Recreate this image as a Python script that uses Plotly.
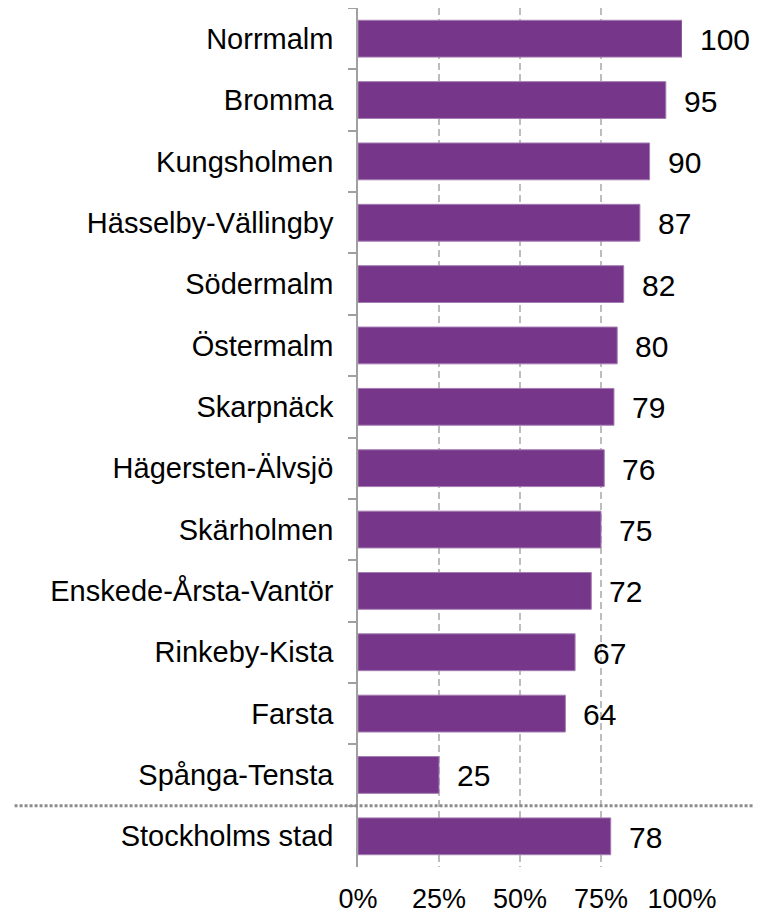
import plotly.graph_objects as go

categories = ["Norrmalm", "Bromma", "Kungsholmen", "Hässelby-Vällingby", "Södermalm",
              "Östermalm", "Skarpnäck", "Hägersten-Älvsjö", "Skärholmen",
              "Enskede-Årsta-Vantör", "Rinkeby-Kista", "Farsta", "Spånga-Tensta",
              "Stockholms stad"]
values = [100, 95, 90, 87, 82, 80, 79, 76, 75, 72, 67, 64, 25, 78]
x_ticks = [0, 25, 50, 75, 100]
x_tick_labels = ["0%", "25%", "50%", "75%", "100%"]

BAR = "#763689"
FONT = "Liberation Sans, Arial, sans-serif"

fig = go.Figure()
fig.add_trace(go.Bar(
    x=values, y=categories, orientation="h",
    marker=dict(color=BAR, line=dict(color="#A47CB2", width=1)),
    hoverinfo="skip",
))

for c, v in zip(categories, values):
    fig.add_annotation(x=v, y=c, text=str(v), showarrow=False,
                       xanchor="left", yanchor="middle", xshift=16, yshift=-1,
                       font=dict(size=30, color="black", family=FONT))

# separator dotted line between districts and city total
fig.add_shape(type="line", xref="paper", yref="y",
              x0=-1.06, x1=1.25, y0=len(categories) - 1.5, y1=len(categories) - 1.5,
              line=dict(color="#8C8C8C", width=3, dash="3px,2px"))

# the page body adds an 8px offset; figure is sized to fit the 761x916 window
fig.update_layout(
    width=753, height=908,
    margin=dict(l=350, r=79, t=0, b=49, autoexpand=False),
    plot_bgcolor="white", paper_bgcolor="white",
    showlegend=False,
    bargap=0.4,
    font=dict(family=FONT, color="black"),
    xaxis=dict(range=[0, 100], tickvals=x_ticks, ticktext=x_tick_labels,
               showgrid=True, gridcolor="#BDBDBD", gridwidth=1.5, griddash="7px,4px",
               zeroline=False, showline=False, ticks="", automargin=False,
               tickfont=dict(size=27, color="black"), ticklabelstandoff=13),
    yaxis=dict(autorange="reversed", showgrid=False, zeroline=False,
               showline=True, linecolor="#A0A0A0", linewidth=1.5, automargin=False,
               ticks="outside", tickson="boundaries", ticklen=8, tickcolor="#A0A0A0",
               tickwidth=1.5, tickfont=dict(size=29, color="black"),
               ticklabelstandoff=17),
)

fig.write_html("out.html")
